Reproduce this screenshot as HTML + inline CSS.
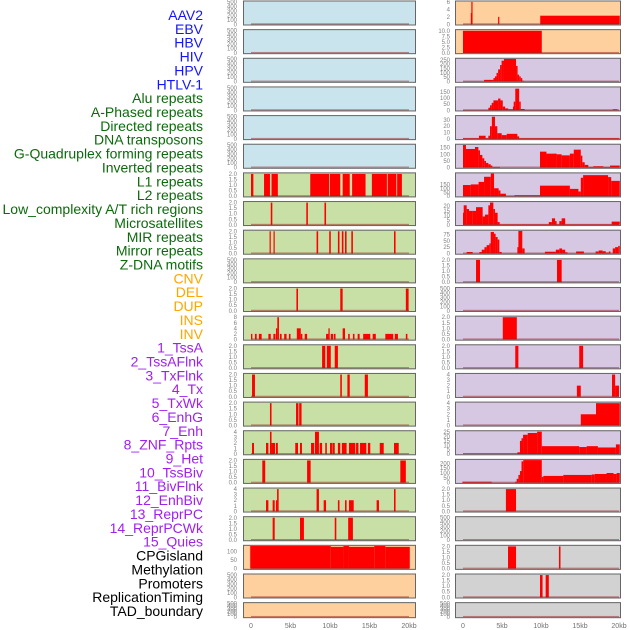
<!DOCTYPE html>
<html><head><meta charset="utf-8"><style>
html,body{margin:0;padding:0;background:#fff;}
svg{display:block;font-family:"Liberation Sans",sans-serif;}
</style></head><body>
<svg id="chart" width="630" height="630" viewBox="0 0 630 630"></svg>
<script>
// ---- labels ----
const labelNames=["AAV2","EBV","HBV","HIV","HPV","HTLV-1","Alu repeats","A-Phased repeats","Directed repeats","DNA transposons","G-Quadruplex forming repeats","Inverted repeats","L1 repeats","L2 repeats","Low_complexity A/T rich regions","Microsatellites","MIR repeats","Mirror repeats","Z-DNA motifs","CNV","DEL","DUP","INS","INV","1_TssA","2_TssAFlnk","3_TxFlnk","4_Tx","5_TxWk","6_EnhG","7_Enh","8_ZNF_Rpts","9_Het","10_TssBiv","11_BivFlnk","12_EnhBiv","13_ReprPC","14_ReprPCWk","15_Quies","CPGisland","Methylation","Promoters","ReplicationTiming","TAD_boundary"];
const labelGroups=[0,0,0,0,0,0,1,1,1,1,1,1,1,1,1,1,1,1,1,2,2,2,2,2,3,3,3,3,3,3,3,3,3,3,3,3,3,3,3,4,4,4,4,4];
const groupColors=["#1414ff","#0b6b0b","#ffa500","#a020f0","#000000"];
const xTickVals=[0,5,10,15,20];
const xTickLabels=["0","5kb","10kb","15kb","20kb"];
const EMPTY=[0,100,200,300,400,500];
const T2=[0,0.5,1,1.5,2];
// ---- left column data (segments: [startKb,endKb,value]) ----
const L6=[[0,0.3,2],[1.65,2.4,2],[2.6,3.4,2],[7.5,9.9,2],[10.0,11.3,2],[11.6,12.5,2],[12.8,14.5,2],[15.3,17.2,2],[17.3,18.4,2],[18.5,19.1,2]];
const L7=[[2.5,2.7,2],[7.0,7.2,2],[9.3,9.5,2]];
const L8=[[2.35,2.5,2],[2.85,3.0,2],[8.3,8.5,2],[9.9,10.1,2],[11.0,11.2,2],[11.5,11.7,2],[11.9,12.1,2],[12.7,12.9,2],[18.1,18.3,2]];
const L10=[[5.75,5.95,2],[11.3,11.6,2],[19.6,19.95,2]];
const L11=[[0,0.17,2],[0.5,0.72,2],[1.0,1.35,2],[2.2,2.5,2],[2.83,3.1,2],[3.16,3.33,4],[3.33,3.54,8],[3.67,3.88,2],[4.2,4.5,2],[4.8,5.0,2],[5.8,6.3,4],[6.3,6.5,2],[6.8,7.1,2],[9.5,9.8,2],[9.8,9.96,4],[10.1,10.4,2],[10.5,10.7,2],[11.6,11.9,4],[12.3,12.5,2],[12.9,13.1,2],[13.5,13.75,2],[14.2,15.1,2],[15.4,15.8,2],[17.0,18.0,2],[18.2,18.6,2],[19.6,19.8,2]];
const L12=[[9.0,9.4,2],[9.6,10.1,2],[10.6,11.0,2]];
const L13=[[0.13,0.5,2],[11.3,11.5,2],[12.2,12.5,2],[14.4,14.8,2]];
const L14=[[2.4,2.6,2],[5.7,6.0,2],[6.1,6.4,2]];
const L15=[[0.13,0.38,2],[1.9,2.2,2],[2.4,2.6,4],[2.6,3.04,2],[3.16,3.4,2],[5.6,5.95,2],[6.2,6.45,2],[7.6,8.0,2],[8.1,8.6,4],[8.7,9.0,2],[9.4,9.6,2],[10.0,10.25,2],[10.3,10.6,2],[11.0,11.3,2],[11.5,12.1,2],[12.4,13.2,2],[13.3,13.6,2],[13.8,14.6,2],[14.8,15.1,2],[16.3,16.8,2],[18.1,18.7,2]];
const L16=[[1.43,1.8,2],[7.1,7.55,2],[18.9,19.6,2]];
const L17=[[1.9,2.2,2],[2.74,3.0,2],[3.16,3.3,2],[3.3,3.5,4],[8.3,8.6,4],[9.2,9.5,2],[11.0,11.2,2],[11.9,12.1,2],[12.4,13.0,2],[15.9,16.2,2],[18.1,18.3,4]];
const L18=[[2.74,3.0,2],[6.2,6.7,2],[10.6,10.8,2],[12.3,12.9,2]];
const L19=[[-0.1,10.1,133],[10.1,11.7,128],[11.7,12.4,133],[12.4,15.6,128],[15.6,17.0,133],[17.0,20.1,128]];
// ---- right column data ----
const R0=[[1.07,1.2,6],[1.0,1.07,3],[4.5,4.6,2],[9.9,20.1,2.3]];
const R1=[[0,10.1,10]];
const R2s=[0,2.7,3.9,4.1,4.3,4.5,4.75,4.95,5.25,6.8,7.0,7.2,7.4,7.6,7.8];
const R2v=[3,20,40,60,100,140,190,240,260,180,80,60,40,10,3];
const R3s=[0,3.25,3.46,3.68,3.9,4.5,4.8,5.1,5.4,5.8,6.4,6.5,6.7,7.2,7.4,7.9,19.2,19.8];
const R3v=[2,20,40,60,80,95,80,30,15,8,30,70,175,70,10,2,8,2];
const R4s=[0,2.05,2.9,3.25,3.46,3.7,4.1,4.4,4.96,5.6,6.97,7.2];
const R4v=[1,5,1,5,20,35,20,9,6,8,4,1];
const R5s=[0,0.38,1.54,1.97,2.18,2.48,2.73,2.95,3.25,3.55,3.76,4.74,9.87,10.7,12.0,12.65,13.7,14.2,15.1,15.3,15.6,16.07,16.7,18.0,18.85];
const R5v=[170,140,155,130,95,70,50,35,25,15,5,0,120,105,100,92,105,135,90,40,20,5,10,5,15];
const R6s=[0,1.0,2.0,2.7,3.56,3.98,4.57,4.8,5.5,6.6,9.87,13.7,14.8,15.1,15.4,18.6,19.0];
const R6v=[142,150,182,247,288,101,73,32,3,12,134,93,60,235,268,243,195];
const R7s=[0,0.09,0.47,0.77,1.24,1.67,2.52,2.82,3.25,3.46,3.89,4.1,4.44,4.7,11.0,11.4,11.8,12.0,12.35,12.65,13.1,19.06];
const R7v=[13,21,17,15,15,19,9,11,21,24,17,13,3,0.5,3,7,4,0.5,4,7,0.5,3.5];
const R8s=[0,0.47,1.24,2.1,2.4,2.75,3.03,3.38,3.55,3.97,4.18,4.44,4.66,4.96,6.97,7.1,7.6,7.9,10.5,11.9,12.35,12.7,13.1,13.4,14.5,15.5,17.0,17.4,17.9,18.3,18.7,18.9,19.2,19.5,19.9];
const R8v=[0.5,6,0.5,6,15,25,33,40,85,78,65,55,6,0.5,25,89,20,0.5,7,15,20,15,5,0.5,8,0.5,8,12,9,4,8,0.5,20,25,30];
const R9=[[1.67,2.18,2],[12.05,12.65,2]];
const R11=[[5.1,6.9,2]];
const R12=[[6.7,7.1,2],[14.9,15.4,2]];
const R13=[[14.6,15.1,2],[19.1,19.5,4],[19.5,20.0,2]];
const R14=[[15.1,17.05,2],[17.05,20.1,4]];
const R15s=[0,6.97,7.3,7.5,7.7,8.3,9.5,10.1,14.9,15.85,17.3,19.6];
const R15v=[0.5,2,15,18,22,24,25.5,9,8,9,7.5,11];
const R16s=[-0.1,3.68,6.67,6.88,7.1,7.3,7.5,7.73,10.1,10.3,12.86,16.5,16.9,18.4,19.3,19.7];
const R16v=[10,0.5,10,40,80,120,220,233,60,70,80,85,90,100,90,100];
const R17=[[5.5,6.8,2]];
const R19=[[5.77,6.8,2],[12.3,12.5,2]];
const R20=[[9.87,10.2,2],[10.6,11.0,2]];

function steps(s,v,end){const o=[];for(let i=0;i<s.length;i++){o.push([s[i],i+1<s.length?s[i+1]:end,v[i]]);}return o;}

const BLUE="#c9e4ec",GREEN="#c8e0a5",ORANGE="#fdd09e",PURPLE="#d6c7e2",GRAY="#d2d2d2";
// panels: [col,row,bg,yMax,ticks,decimals,segments]
const panels=[];
for(let r=0;r<6;r++)panels.push([0,r,BLUE,510,EMPTY,0,[]]);
panels.push([0,6,GREEN,2.05,T2,1,L6]);
panels.push([0,7,GREEN,2.05,T2,1,L7]);
panels.push([0,8,GREEN,2.05,T2,1,L8]);
panels.push([0,9,GREEN,510,EMPTY,0,[]]);
panels.push([0,10,GREEN,2.05,T2,1,L10]);
panels.push([0,11,GREEN,8.2,[0,2,4,6,8],0,L11]);
panels.push([0,12,GREEN,2.05,T2,1,L12]);
panels.push([0,13,GREEN,2.05,T2,1,L13]);
panels.push([0,14,GREEN,2.05,T2,1,L14]);
panels.push([0,15,GREEN,4.1,[0,1,2,3,4],0,L15]);
panels.push([0,16,GREEN,2.05,T2,1,L16]);
panels.push([0,17,GREEN,4.1,[0,1,2,3,4],0,L17]);
panels.push([0,18,GREEN,2.05,T2,1,L18]);
panels.push([0,19,ORANGE,134,[0,50,100],0,L19]);
panels.push([0,20,ORANGE,510,EMPTY,0,[]]);
panels.push([0,21,ORANGE,510,EMPTY,0,[]]);
panels.push([1,0,ORANGE,6.1,[0,2,4,6],0,R0]);
panels.push([1,1,ORANGE,10.3,[0,2.5,5,7.5,10],1,R1]);
panels.push([1,2,PURPLE,262,[0,50,100,150,200,250],0,steps(R2s,R2v,20.1)]);
panels.push([1,3,PURPLE,185,[0,50,100,150],0,steps(R3s,R3v,20.1)]);
panels.push([1,4,PURPLE,36,[0,10,20,30],0,steps(R4s,R4v,20.1)]);
panels.push([1,5,PURPLE,172,[0,50,100,150],0,steps(R5s,R5v,20.1)]);
panels.push([1,6,PURPLE,290,[0,50,100,150],0,steps(R6s,R6v,20.1)]);
panels.push([1,7,PURPLE,24.5,[0,5,10,15,20],0,steps(R7s,R7v,20.1)]);
panels.push([1,8,PURPLE,90,[0,25,50,75],0,steps(R8s,R8v,20.1)]);
panels.push([1,9,PURPLE,2.05,T2,1,R9]);
panels.push([1,10,PURPLE,510,EMPTY,0,[]]);
panels.push([1,11,PURPLE,2.05,T2,1,R11]);
panels.push([1,12,PURPLE,2.05,T2,1,R12]);
panels.push([1,13,PURPLE,4.1,[0,1,2,3,4],0,R13]);
panels.push([1,14,PURPLE,4.1,[0,1,2,3,4],0,R14]);
panels.push([1,15,PURPLE,26,[0,5,10,15,20,25],0,steps(R15s,R15v,20.1)]);
panels.push([1,16,PURPLE,235,[0,50,100,150,200],0,steps(R16s,R16v,20.1)]);
panels.push([1,17,GRAY,2.05,T2,1,R17]);
panels.push([1,18,GRAY,510,EMPTY,0,[]]);
panels.push([1,19,GRAY,2.05,T2,1,R19]);
panels.push([1,20,GRAY,2.05,T2,1,R20]);
panels.push([1,21,GRAY,510,EMPTY,0,[]]);

const NS="http://www.w3.org/2000/svg";
const svg=document.getElementById("chart");
function mk(tag,attrs,parent){const e=document.createElementNS(NS,tag);for(const k in attrs)e.setAttribute(k,attrs[k]);(parent||svg).appendChild(e);return e;}

// labels
labelNames.forEach((n,i)=>{
  const t=mk("text",{x:203,y:15+i*13.86+5,"text-anchor":"end","font-size":"14",fill:groupColors[labelGroups[i]]});
  
  
  t.textContent=n;
});

const colX=[[243,416],[455,621]];
const kb0=[251,463],kbScale=[7.9,7.8];
function xOf(c,kb){return kb0[c]+kb*kbScale[c];}
function rowTop(r){return 0.5+r*28.65;}
function rowH(r){return r===21?16:25;}

panels.forEach(p=>{
  const [c,r,bg,yMax,ticks,dec,segs]=p;
  const g=mk("g",{});
  
  
  const x0=colX[c][0],x1=colX[c][1],top=rowTop(r),h=rowH(r);
  const bot=top+h-1.2;
  const yOf=v=>bot-Math.max(0,Math.min(v,yMax))/yMax*(h-2.2);
  const bgR=mk("rect",{x:x0,y:top,width:x1-x0,height:h,fill:bg},g);
  
  
  segs.forEach(s=>{
    const xa=Math.max(x0+0.5,xOf(c,s[0])),xb=Math.min(x1-0.5,xOf(c,s[1]));
    const y=yOf(s[2]);
    const b=mk("rect",{x:xa,y:y,width:Math.max(1.2,xb-xa),height:bot-y,fill:"#ff0000"},g);
    
    
  });
  const base=mk("rect",{x:xOf(c,0),y:bot-1,width:xOf(c,20)-xOf(c,0),height:1.2,fill:"rgba(150,30,30,0.5)"},g);
  
  
  const br=mk("rect",{x:x0+0.5,y:top+0.5,width:x1-x0-1,height:h-1,fill:"none",stroke:"#666","stroke-width":1},g);
  
  
  ticks.forEach(tv=>{
    const t=mk("text",{x:c===0?237:450,y:yOf(tv)+2,"text-anchor":"end","font-size":"6",fill:"#808080"},g);
    
    
    t.textContent=dec?tv.toFixed(dec):String(tv);
  });
});

// x axis
[0,1].forEach(c=>{
  xTickVals.forEach((v,i)=>{
    const t=mk("text",{x:xOf(c,v),y:628,"text-anchor":"middle","font-size":"7",fill:"#707070"});
    
    
    t.textContent=xTickLabels[i];
  });
});
</script>
</body></html>
